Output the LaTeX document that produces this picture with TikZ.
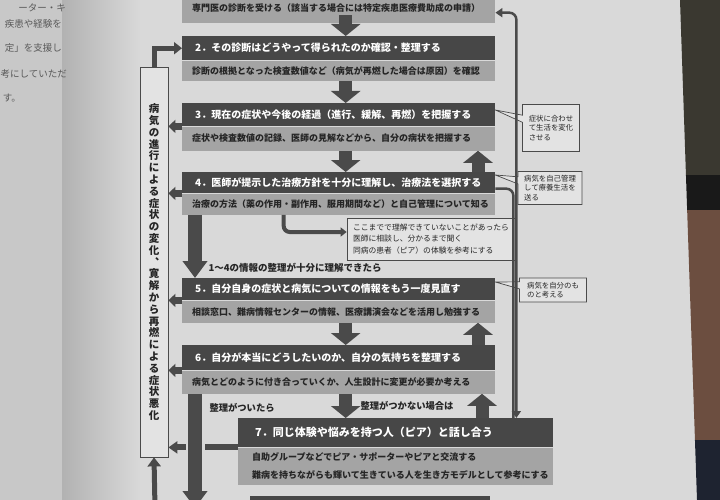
\documentclass[tikz,border=0pt]{standalone}
\usepackage{fontspec}
\setmainfont{Noto Sans CJK JP}
\usetikzlibrary{positioning, arrows.meta, shapes.callouts, calc}
\definecolor{paper}{HTML}{D9D9D9}
\definecolor{leftpaper}{HTML}{C8C8C8}
\definecolor{gutter}{HTML}{B2B2B2}
\definecolor{hdrgray}{HTML}{474747}
\definecolor{bandgray}{HTML}{A4A4A4}
\definecolor{arrgray}{HTML}{4A4A4A}
\definecolor{notefill}{HTML}{E3E3E3}
\definecolor{inktxt}{HTML}{252525}
\definecolor{desk}{HTML}{3A3830}
\definecolor{skin}{HTML}{6C4E40}
\definecolor{navy}{HTML}{1E2330}

\begin{document}
\begin{tikzpicture}[x=1pt, y=-1pt,
  hdr/.style={anchor=north west, fill=hdrgray, text=white, text width=#1, inner xsep=13pt, inner ysep=0pt, align=left, font=\fontsize{10}{12}\selectfont\bfseries},
  dtl/.style={anchor=north west, fill=bandgray, text=inktxt, text width=#1, inner xsep=10pt, inner ysep=0pt, align=left, font=\fontsize{9}{11}\selectfont\bfseries},
  blk/.style={draw=arrgray, line width=13pt, -{Triangle[length=12pt, width=29pt]}},
  bigblk/.style={draw=arrgray, line width=14pt, -{Triangle[length=17pt, width=24pt]}},
  sidearr/.style={draw=arrgray, line width=7pt, -{Triangle[length=7pt, width=13pt]}},
  thinline/.style={draw=arrgray, line width=2.5pt, rounded corners=7pt},
  note/.style={rectangle callout, draw=arrgray, fill=notefill, line width=0.7pt, align=left, inner sep=3pt, text=inktxt, font=\fontsize{7.4}{9.5}\selectfont},
  lbl/.style={anchor=west, text=inktxt, font=\fontsize{9.5}{11}\selectfont\bfseries},
  leftpg/.style={anchor=east, inner xsep=0pt, text=black!65, font=\fontsize{9.5}{12}\selectfont}]
  \useasboundingbox (0,0) rectangle (720,500);
  \clip (0,0) rectangle (720,500);

  % Photo background: open book and desk
  \fill[paper] (0,0) rectangle (720,500);
  \fill[leftpaper] (0,0) rectangle (62,500);
  \shade[left color=gutter, right color=paper] (62,0) rectangle (140,500);
  \begin{scope}
    \clip (680,0) -- (697,500) -- (720,500) -- (720,0) -- cycle;
    \fill[desk] (670,0) rectangle (720,175);
    \fill[black!90] (670,175) rectangle (720,210);
    \fill[skin] (670,210) rectangle (720,440);
    \fill[navy] (670,440) rectangle (720,500);
  \end{scope}
  \node[leftpg] (lp1) at (66,8) {ーター・キ};
  \node[leftpg] (lp2) at (62,24) {疾患や経験を};
  \node[leftpg] (lp3) at (62,48) {定」を支援し};
  \node[leftpg] (lp4) at (67,74) {考にしていただ};
  \node[leftpg] (lp5) at (21,98) {す。};

  % Steps
  \node[dtl=293pt, minimum height=31pt] (d1) at (182,-8) {専門医の診断を受ける（該当する場合には特定疾患医療費助成の申請）};
  \node[hdr=287pt, minimum height=24pt] (h2) at (182,36) {2．その診断はどうやって得られたのか確認・整理する};
  \node[dtl=293pt, minimum height=20pt] (d2) at (h2.south west) {診断の根拠となった検査数値など（病気が再燃した場合は原因）を確認};
  \node[hdr=287pt, minimum height=23pt] (h3) at (182,103) {3．現在の症状や今後の経過（進行、緩解、再燃）を把握する};
  \node[dtl=293pt, minimum height=24pt] (d3) at (h3.south west) {症状や検査数値の記録、医師の見解などから、自分の病状を把握する};
  \node[hdr=287pt, minimum height=21pt] (h4) at (182,172) {4．医師が提示した治療方針を十分に理解し、治療法を選択する};
  \node[dtl=293pt, minimum height=21pt] (d4) at (h4.south west) {治療の方法（薬の作用・副作用、服用期間など）と自己管理について知る};
  \node[hdr=287pt, minimum height=22pt] (h5) at (182,278) {5．自分自身の症状と病気についての情報をもう一度見直す};
  \node[dtl=293pt, minimum height=22pt] (d5) at (h5.south west) {相談窓口、難病情報センターの情報、医療講演会などを活用し勉強する};
  \node[hdr=287pt, minimum height=25pt] (h6) at (182,345) {6．自分が本当にどうしたいのか、自分の気持ちを整理する};
  \node[dtl=293pt, minimum height=23pt] (d6) at (h6.south west) {病気とどのように付き合っていくか、人生設計に変更が必要か考える};
  \node[hdr=281pt, inner xsep=17pt, minimum height=29pt, font=\fontsize{11}{13}\selectfont\bfseries] (h7) at (238,418) {7．同じ体験や悩みを持つ人（ピア）と話し合う};
  \node[dtl=287pt, inner xsep=14pt, minimum height=37pt, font=\fontsize{9}{18}\selectfont\bfseries] (d7) at (h7.south west) {自助グループなどでピア・サポーターやピアと交流する\\難病を持ちながらも輝いて生きている人を生き方モデルとして参考にする};
  \node[hdr=214pt, minimum height=24pt] (h8) at (250,496) {};

  % Side column
  \node[draw=arrgray, line width=0.8pt, fill=notefill, minimum width=28pt, minimum height=390pt, inner sep=0pt, align=center, text=inktxt, font=\fontsize{10.5}{11.8}\selectfont\bfseries] (vbox) at (154,262) {病\\気\\の\\進\\行\\に\\よ\\る\\症\\状\\の\\変\\化\\︑\\寛\\解\\か\\ら\\再\\燃\\に\\よ\\る\\症\\状\\悪\\化};

  % Notes
  \node[draw=arrgray, fill=notefill, line width=0.7pt, minimum width=168pt, minimum height=42pt, align=left, text=inktxt, font=\fontsize{7.8}{11.5}\selectfont] (ask) at (431,239) {ここまでで理解できていないことがあったら\\医師に相談し、分かるまで聞く\\同病の患者（ピア）の体験を参考にする};
  \node[note, minimum width=57pt, minimum height=47pt, callout absolute pointer={([yshift=-7pt]h3.north east)}] (n3) at (551,128) {症状に合わせ\\て生活を変化\\させる};
  \node[note, minimum width=64pt, minimum height=33pt, callout absolute pointer={([yshift=-3pt]h4.north east)}] (n4) at (550,188) {病気を自己管理\\して療養生活を\\送る};
  \node[note, minimum width=67pt, minimum height=24pt, callout absolute pointer={([yshift=-4pt]h5.north east)}] (n5) at (553,290) {病気を自分のも\\のと考える};

  % Main flow
  \draw[blk] ([xshift=7pt, yshift=8pt]d1.south) -- ([xshift=7pt]h2.north);
  \draw[blk] ([xshift=7pt]d2.south) -- ([xshift=7pt]h3.north);
  \draw[blk] ([xshift=7pt]d3.south) -- ([xshift=7pt]h4.north);
  \draw[blk] ([xshift=7pt]d5.south) -- ([xshift=7pt]h6.north);
  \draw[blk] ($(d6.south)+(7,0)$) -- ($(d6.south |- h7.north)+(7,0)$);
  % Back up
  \draw[blk] ([xshift=296pt]h4.north west) -- ([xshift=296pt]d3.south west);
  \draw[blk] ([xshift=296pt]h6.north west) -- ([xshift=296pt]d5.south west);
  \draw[blk] ($(d6.south west |- h7.north)+(300,0)$) -- ($(d6.south west)+(300,0)$);

  % Into the side column
  \foreach \b in {h3,h4,h5,h6}
    \draw[sidearr] (\b.south west) -- (\b.south west -| vbox.east);
  \draw[draw=arrgray, line width=6pt, -{Triangle[length=9pt, width=12pt]}] (h7.south west) -- (h7.south west -| vbox.east);
  \draw[draw=arrgray, line width=5pt, -{Triangle[length=8pt, width=12pt]}] (vbox.north) |- (h2.west);
  \coordinate (enterv) at (155,508);
  \draw[draw=arrgray, line width=5pt, -{Triangle[length=9pt, width=13pt]}] (enterv) -- (vbox.south);

  % Skip-ahead arrows
  \draw[bigblk] ([xshift=13pt]d4.south west) -- ([xshift=13pt]h5.north west);
  \coordinate (exit6) at (195,508);
  \draw[paper, line width=19pt] (195,440) -- (195,454);
  \draw[bigblk] ([xshift=13pt]d6.south west) -- (exit6);
  \draw[draw=arrgray, line width=4pt, rounded corners=6pt, -{Triangle[length=6pt, width=9pt]}] ($(d4.south)+(-55,0)$) |- ([yshift=7pt]ask.west);

  % Right loop
  \draw[thinline] ([yshift=-6pt]h4.east) -| ($(h7.north east)+(-40,0)$);
  \draw[thinline, {Triangle[length=7pt, width=9pt]}-{Triangle[length=7pt, width=9pt]}] ($(h7.north east)+(-37,0)$) |- ([yshift=-5pt]d1.east);

  % Labels
  \node[lbl] (l14) at (205,268) {1～4の情報の整理が十分に理解できたら};
  \node[lbl, font=\fontsize{9.3}{11}\selectfont\bfseries] (lok) at (206,408) {整理がついたら};
  \node[lbl, font=\fontsize{9.3}{11}\selectfont\bfseries] (lng) at (357,406) {整理がつかない場合は};
\end{tikzpicture}
\end{document}
